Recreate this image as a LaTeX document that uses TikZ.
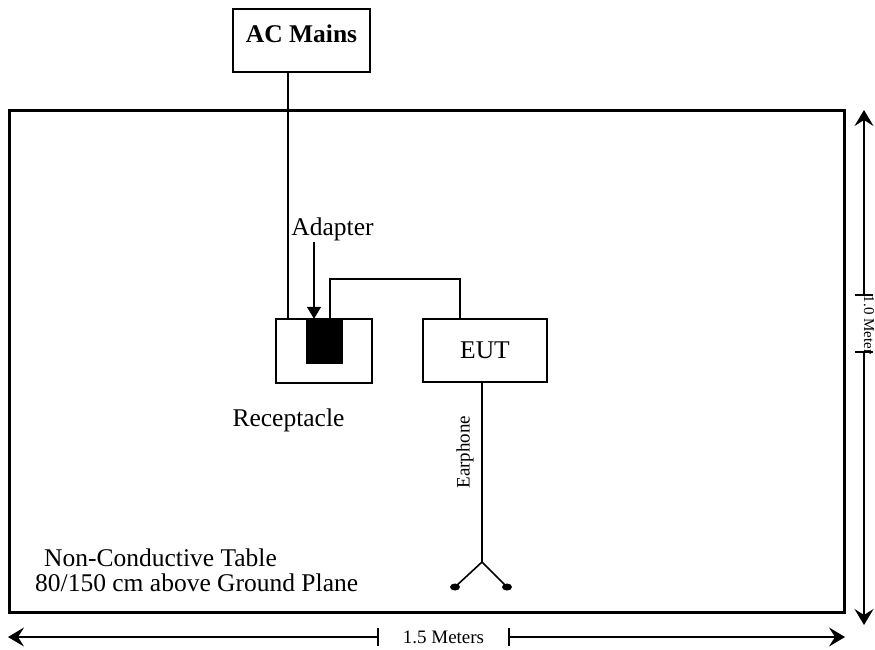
\documentclass[tikz,border=0pt]{standalone}
\usepackage{fontspec}
\setmainfont{Liberation Serif}
\usetikzlibrary{arrows.meta,shapes.geometric}
\begin{document}
\begin{tikzpicture}[x=1pt,y=-1pt,
 box/.style={draw, line width=1.4pt, inner sep=0pt},
 big/.style={font=\fontsize{25.5}{29}\selectfont},
 small/.style={font=\fontsize{19}{22}\selectfont},
 wire/.style={line width=1.6pt},
 dimarrow/.style={line width=1.3pt, -{Stealth[length=16pt,width=19pt,inset=6pt]}},
 tickline/.style={line width=1.3pt},
 dot/.style={ellipse, fill=black, inner sep=0pt, minimum width=10pt, minimum height=7pt}]
\useasboundingbox (0,0) rectangle (875,649);
% table
\node[box, line width=3pt, minimum width=835pt, minimum height=502pt] (table) at (426.5,361) {};
% AC mains
\node[box, minimum width=137pt, minimum height=63pt] (ac) at (301.5,40.5) {};
\node[big, anchor=base] (actext) at (301.5,42) {\textbf{AC Mains}};
% receptacle and adapter
\node[box, minimum width=96pt, minimum height=64pt] (rec) at (324,351) {};
\node[fill=black, inner sep=0pt, minimum width=37pt, minimum height=45pt] (adp) at (324.5,341.5) {};
% EUT
\node[box, big, minimum width=124pt, minimum height=63pt] (eut) at (485,350.5) {EUT};
% labels
\node[big, anchor=base, inner sep=1pt] (adlabel) at (332.5,235) {Adapter};
\node[big, anchor=base] (reclabel) at (288.5,426) {Receptacle};
\node[big, anchor=base west, inner sep=0pt] (t1) at (44,566) {Non-Conductive Table};
\node[big, anchor=base west, inner sep=0pt] (t2) at (35,591) {80/150 cm above Ground Plane};
\node[small, rotate=90] (earlabel) at (465,452) {Earphone};
\node[small] (hlabel) at (443.5,637) {1.5 Meters};
\node[font=\fontsize{15}{18}\selectfont, rotate=-90] (vlabel) at (869,325) {1.0 Meter};
% AC wire
\coordinate (acx) at (288,0);
\draw[wire] (ac.south -| acx) -- (rec.north -| acx);
% adapter pointer
\coordinate (arrx) at (314,0);
\draw[wire, -{Triangle[length=12pt,width=14pt]}] (adlabel.south -| arrx) -- (adp.north -| arrx);
% cable adapter to EUT
\coordinate (c1) at (330,279);
\coordinate (c2) at (460,279);
\draw[wire] (adp.north -| c1) -- (c1) -- (c2) -- (eut.north -| c2);
% earphone
\coordinate (ej) at (482,562);
\node[dot] (d1) at (455,587) {};
\node[dot] (d2) at (507,587) {};
\draw[wire] (eut.south -| ej) -- (ej) -- (d1.center);
\draw[wire] (ej) -- (d2.center);
% vertical dimension
\coordinate (vtop) at (864,110);
\coordinate (vbot) at (864,625);
\coordinate (vt1) at (864,295);
\coordinate (vt2) at (864,352);
\draw[dimarrow] (vt1) -- (vtop);
\draw[dimarrow] (vt2) -- (vbot);
\draw[tickline] ([xshift=-9pt]vt1) -- ([xshift=9pt]vt1);
\draw[tickline] ([xshift=-9pt]vt2) -- ([xshift=9pt]vt2);
% horizontal dimension
\coordinate (hl) at (8,637);
\coordinate (hr) at (845,637);
\coordinate (ht1) at (378,637);
\coordinate (ht2) at (509,637);
\draw[dimarrow] (ht1) -- (hl);
\draw[dimarrow] (ht2) -- (hr);
\draw[tickline] ([yshift=-9pt]ht1) -- ([yshift=9pt]ht1);
\draw[tickline] ([yshift=-9pt]ht2) -- ([yshift=9pt]ht2);
\end{tikzpicture}
\end{document}
